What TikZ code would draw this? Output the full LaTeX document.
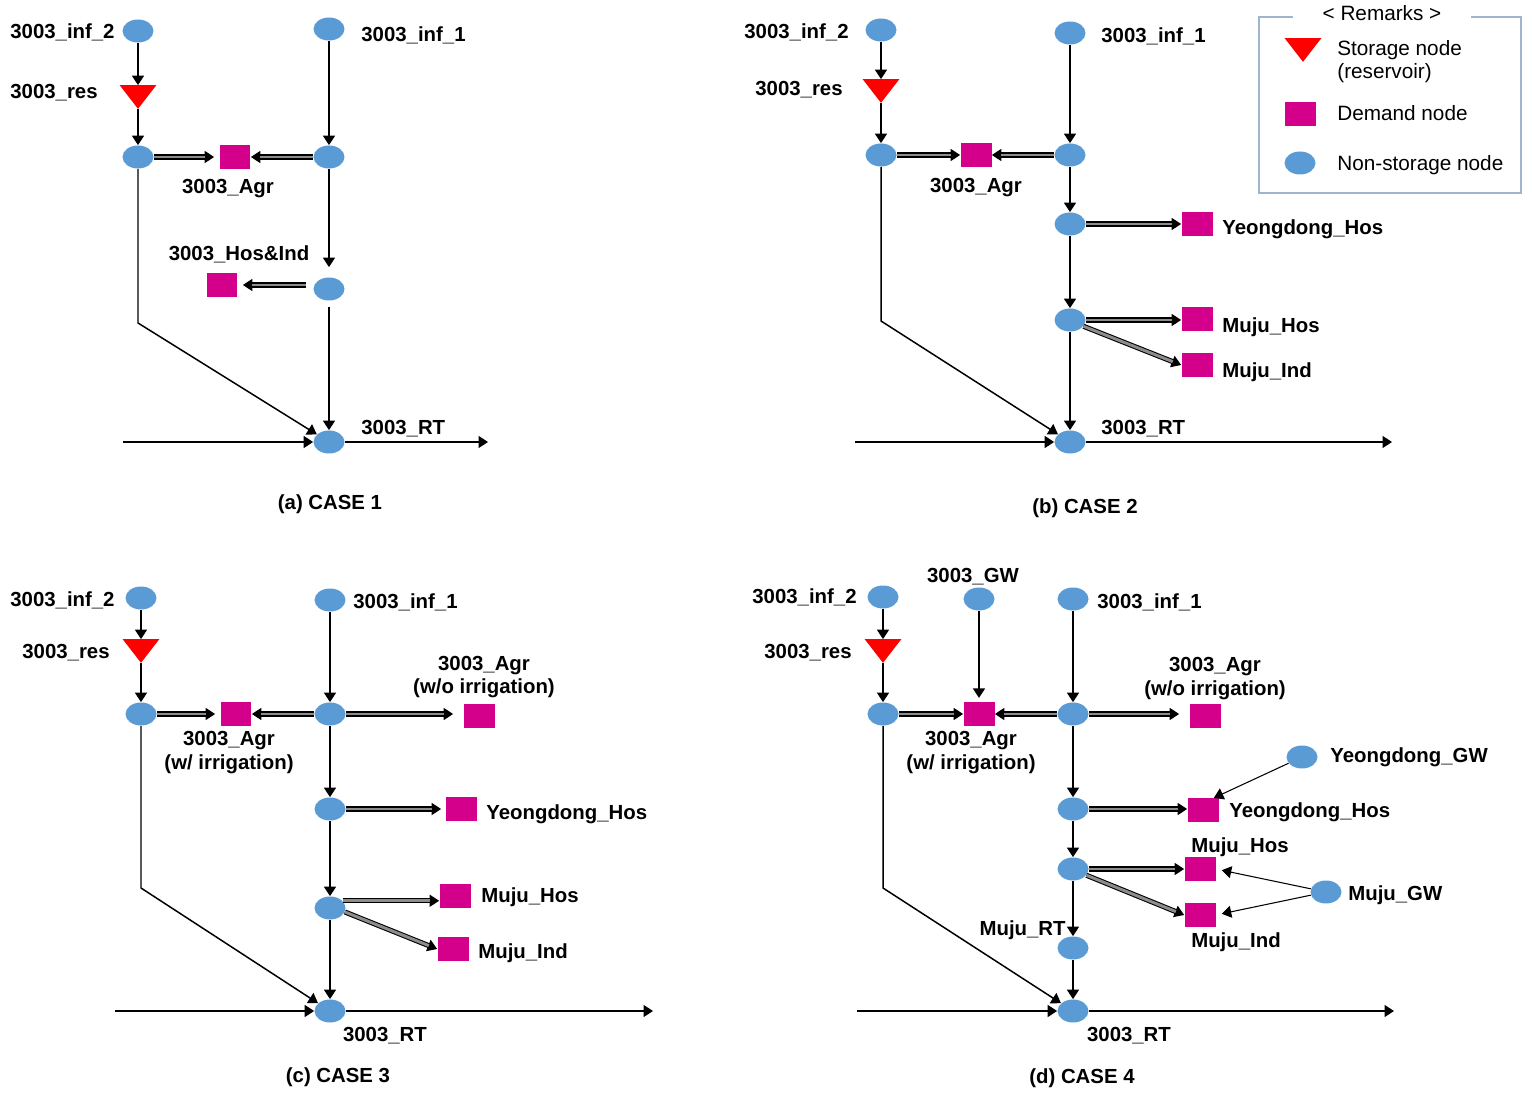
\documentclass[tikz,border=0pt]{standalone}
\usepackage{fontspec}
\setmainfont{Liberation Sans}
\usetikzlibrary{shapes.geometric,arrows.meta,calc}
\definecolor{nsblue}{RGB}{91,155,213}
\definecolor{dmmag}{RGB}{212,0,140}
\definecolor{lgbord}{RGB}{160,180,205}
\tikzset{
 ns/.style={ellipse, fill=nsblue, minimum width=0.62cm, minimum height=0.46cm, inner sep=0pt},
 dm/.style={rectangle, fill=dmmag, minimum width=0.62cm, minimum height=0.47cm, inner sep=0pt},
 stbox/.style={rectangle, minimum width=0.72cm, minimum height=0.46cm, inner sep=0pt},
 lbl/.style={font=\fontsize{11.6}{13}\selectfont\bfseries, inner sep=0pt, text height=8.3pt, text depth=0pt},
 lgl/.style={font=\fontsize{11.8}{13}\selectfont, inner sep=0pt, text height=8.3pt, text depth=0pt},
 arr/.style={line width=0.85pt, -{Triangle[length=0.19cm,width=0.24cm]}},
 ln/.style={line width=0.85pt},
 dline/.style={line width=0.6pt, double=black!45, double distance=1.7pt},
}
\newcommand\dblarr[3][0pt]{%
  \draw[arr, shorten >=#1] (#2) -- (#3);
  \draw[dline, shorten >=#1+0.18cm] (#2) -- (#3);}
\newcommand\stor[2]{%
  \node[stbox] (#1) at (#2) {};
  \fill[red] (#1.north west) -- (#1.north east) -- (#1.south) -- cycle;}
\begin{document}
\begin{tikzpicture}[x=0.02cm, y=-0.02cm]
\useasboundingbox (0,0) rectangle (1532,1094);

% ================= (a) CASE 1 =================
\node[ns] (a_i2) at (138,31) {};
\node[ns] (a_i1) at (329,29) {};
\stor{a_res}{138,97}
\node[ns] (a_lj) at (138,157) {};
\node[ns] (a_rj) at (329,157) {};
\node[dm] (a_agr) at (235,157) {};
\node[dm] (a_hos) at (222,285) {};
\node[ns] (a_hj) at (329,289) {};
\node[ns] (a_rt) at (329,442) {};
\coordinate (a_bend) at (138,323);
\coordinate (a_in) at (123,442);
\coordinate (a_out) at (488,442);

\draw[arr] (a_i2) -- (a_res);
\draw[arr] (a_res) -- (a_lj);
\draw[arr] (a_i1) -- (a_rj);
\dblarr[0.1cm]{a_lj}{a_agr}
\dblarr{a_rj}{a_agr}
\draw[arr, shorten >=0.2cm] (a_rj) -- (a_hj);
\draw[arr, shorten <=0.12cm] (a_hj) -- (a_rt);
\draw[arr, shorten <=0.14cm, shorten >=0.1cm] (a_hj.west |- a_hos) -- (a_hos);
\draw[dline, shorten <=0.14cm, shorten >=0.28cm] (a_hj.west |- a_hos) -- (a_hos);
\draw[arr] (a_lj) -- (a_bend) -- (a_rt);
\draw[arr] (a_in) -- (a_rt);
\draw[arr] (a_rt) -- (a_out);

\node[lbl, anchor=west] (a_t1) at (10,31) {3003\_inf\_2};
\node[lbl, anchor=west] (a_t2) at (361,34) {3003\_inf\_1};
\node[lbl, anchor=west] (a_t3) at (10,91) {3003\_res};
\node[lbl] (a_t4) at (228,186) {3003\_Agr};
\node[lbl] (a_t5) at (239,253) {3003\_Hos\&Ind};
\node[lbl, anchor=west] (a_t6) at (361,427) {3003\_RT};
\node[lbl] (a_t7) at (330,502) {(a) CASE 1};

% ================= (b) CASE 2 =================
\node[ns] (b_i2) at (881,30) {};
\node[ns] (b_i1) at (1070,33) {};
\stor{b_res}{881,91}
\node[ns] (b_lj) at (881,155) {};
\node[ns] (b_rj) at (1070,155) {};
\node[dm] (b_agr) at (976,155) {};
\node[ns] (b_yj) at (1070,224) {};
\node[dm] (b_yh) at (1197,224) {};
\node[ns] (b_mj) at (1070,320) {};
\node[dm] (b_mh) at (1197,319) {};
\node[dm] (b_mi) at (1197,365) {};
\node[ns] (b_rt) at (1070,442) {};
\coordinate (b_bend) at (881,321);
\coordinate (b_in) at (855,442);
\coordinate (b_out) at (1392,442);

\draw[arr] (b_i2) -- (b_res);
\draw[arr] (b_res) -- (b_lj);
\draw[arr] (b_i1) -- (b_rj);
\dblarr{b_lj}{b_agr}
\dblarr{b_rj}{b_agr}
\draw[arr] (b_rj) -- (b_yj);
\draw[arr] (b_yj) -- (b_mj);
\draw[arr] (b_mj) -- (b_rt);
\dblarr{b_yj}{b_yh}
\dblarr{b_mj}{b_mj -| b_mh.west}
\dblarr{b_mj.-25}{b_mi.west}
\draw[arr] (b_lj) -- (b_bend) -- (b_rt);
\draw[arr] (b_in) -- (b_rt);
\draw[arr] (b_rt) -- (b_out);

\node[lbl, anchor=west] (b_t1) at (744,31) {3003\_inf\_2};
\node[lbl, anchor=west] (b_t2) at (1101,35) {3003\_inf\_1};
\node[lbl, anchor=west] (b_t3) at (755,88) {3003\_res};
\node[lbl] (b_t4) at (976,185) {3003\_Agr};
\node[lbl, anchor=west] (b_t5) at (1222,227) {Yeongdong\_Hos};
\node[lbl, anchor=west] (b_t6) at (1222,325) {Muju\_Hos};
\node[lbl, anchor=west] (b_t7) at (1222,370) {Muju\_Ind};
\node[lbl, anchor=west] (b_t8) at (1101,427) {3003\_RT};
\node[lbl] (b_t9) at (1085,506) {(b) CASE 2};

% ================= Legend =================
\draw[lgbord, line width=0.9pt] (1293,17) -- (1259,17) -- (1259,193) -- (1521,193) -- (1521,17) -- (1471,17);
\node[lgl] (l_title) at (1382,13) {< Remarks >};
\stor{l_st}{1303,50}
\node[dm] (l_dm) at (1300,114) {};
\node[ns] (l_ns) at (1300,163) {};
\node[lgl, anchor=west] (l_t1) at (1337,48) {Storage node};
\node[lgl, anchor=west] (l_t2) at (1337,71) {(reservoir)};
\node[lgl, anchor=west] (l_t3) at (1337,113) {Demand node};
\node[lgl, anchor=west] (l_t4) at (1337,163) {Non-storage node};

% ================= (c) CASE 3 =================
\node[ns] (c_i2) at (141,598) {};
\node[ns] (c_i1) at (330,600) {};
\stor{c_res}{141,651}
\node[ns] (c_lj) at (141,714) {};
\node[ns] (c_rj) at (330,714) {};
\node[dm] (c_agr) at (236,714) {};
\node[dm] (c_wo) at (479,716) {};
\node[ns] (c_yj) at (330,809) {};
\node[dm] (c_yh) at (461,809) {};
\node[ns] (c_mj) at (330,908) {};
\node[dm] (c_mh) at (455,896) {};
\node[dm] (c_mi) at (453,949) {};
\node[ns] (c_rt) at (330,1011) {};
\coordinate (c_bend) at (141,888);
\coordinate (c_in) at (115,1011);
\coordinate (c_out) at (653,1011);

\draw[arr] (c_i2) -- (c_res);
\draw[arr] (c_res) -- (c_lj);
\draw[arr] (c_i1) -- (c_rj);
\dblarr[0.1cm]{c_lj}{c_agr}
\dblarr{c_rj}{c_agr}
\dblarr[0.2cm]{c_rj}{c_rj -| c_wo.west}
\draw[arr] (c_rj) -- (c_yj);
\dblarr[0.08cm]{c_yj}{c_yh}
\draw[arr] (c_yj) -- (c_mj);
\draw[arr] (c_mj) -- (c_rt);
\dblarr{c_mj.30}{c_mj.30 -| c_mh.west}
\dblarr{c_mj.-15}{c_mi.west}
\draw[arr] (c_lj) -- (c_bend) -- (c_rt);
\draw[arr] (c_in) -- (c_rt);
\draw[arr] (c_rt) -- (c_out);

\node[lbl, anchor=west] (c_t1) at (10,599) {3003\_inf\_2};
\node[lbl, anchor=west] (c_t2) at (353,601) {3003\_inf\_1};
\node[lbl, anchor=west] (c_t3) at (22,651) {3003\_res};
\node[lbl] (c_t4) at (229,738) {3003\_Agr};
\node[lbl] (c_t5) at (229,762) {(w/ irrigation)};
\node[lbl] (c_t6) at (484,663) {3003\_Agr};
\node[lbl] (c_t7) at (484,686) {(w/o irrigation)};
\node[lbl, anchor=west] (c_t8) at (486,812) {Yeongdong\_Hos};
\node[lbl, anchor=west] (c_t9) at (481,895) {Muju\_Hos};
\node[lbl, anchor=west] (c_t10) at (478,951) {Muju\_Ind};
\node[lbl] (c_t11) at (385,1034) {3003\_RT};
\node[lbl] (c_t12) at (338,1075) {(c) CASE 3};

% ================= (d) CASE 4 =================
\node[ns] (d_i2) at (883,597) {};
\node[ns] (d_gw) at (979,599) {};
\node[ns] (d_i1) at (1073,599) {};
\stor{d_res}{883,651}
\node[ns] (d_lj) at (883,714) {};
\node[dm] (d_agr) at (979,714) {};
\node[ns] (d_rj) at (1073,714) {};
\node[dm] (d_wo) at (1205,716) {};
\node[ns] (d_ygw) at (1302,757) {};
\node[ns] (d_yj) at (1073,809) {};
\node[dm] (d_yh) at (1203,810) {};
\node[ns] (d_mj) at (1073,869) {};
\node[dm] (d_mh) at (1200,869) {};
\node[dm] (d_mi) at (1200,915) {};
\node[ns] (d_mgw) at (1326,892) {};
\node[ns] (d_mrt) at (1073,948) {};
\node[ns] (d_rt) at (1073,1011) {};
\coordinate (d_bend) at (883,888);
\coordinate (d_in) at (857,1011);
\coordinate (d_out) at (1394,1011);
\coordinate (d_yhtip) at ($(d_yh.north east)+(-5,0)$);

\draw[arr] (d_i2) -- (d_res);
\draw[arr] (d_res) -- (d_lj);
\draw[arr, shorten >=0.08cm] (d_gw) -- (d_agr);
\draw[arr] (d_i1) -- (d_rj);
\dblarr{d_lj}{d_agr}
\dblarr{d_rj}{d_agr}
\dblarr[0.2cm]{d_rj}{d_rj -| d_wo.west}
\draw[arr] (d_rj) -- (d_yj);
\dblarr{d_yj}{d_yj -| d_yh.west}
\draw[arr] (d_yj) -- (d_mj);
\dblarr{d_mj}{d_mh}
\dblarr{d_mj.-25}{d_mi.west}
\draw[arr] (d_mj) -- (d_mrt);
\draw[arr] (d_mrt) -- (d_rt);
\draw[arr, line width=0.6pt] (d_ygw) -- (d_yhtip);
\draw[arr, line width=0.6pt, shorten >=0.12cm] (d_mgw) -- (d_mh.east);
\draw[arr, line width=0.6pt, shorten >=0.12cm] (d_mgw) -- (d_mi.east);
\draw[arr] (d_lj) -- (d_bend) -- (d_rt);
\draw[arr] (d_in) -- (d_rt);
\draw[arr] (d_rt) -- (d_out);

\node[lbl, anchor=west] (d_t1) at (752,596) {3003\_inf\_2};
\node[lbl] (d_t2) at (973,575) {3003\_GW};
\node[lbl, anchor=west] (d_t3) at (1097,601) {3003\_inf\_1};
\node[lbl, anchor=west] (d_t4) at (764,651) {3003\_res};
\node[lbl] (d_t5) at (1215,664) {3003\_Agr};
\node[lbl] (d_t6) at (1215,688) {(w/o irrigation)};
\node[lbl] (d_t7) at (971,738) {3003\_Agr};
\node[lbl] (d_t8) at (971,762) {(w/ irrigation)};
\node[lbl, anchor=west] (d_t9) at (1330,755) {Yeongdong\_GW};
\node[lbl, anchor=west] (d_t10) at (1229,810) {Yeongdong\_Hos};
\node[lbl] (d_t11) at (1240,845) {Muju\_Hos};
\node[lbl] (d_t12) at (1236,940) {Muju\_Ind};
\node[lbl, anchor=west] (d_t13) at (1348,893) {Muju\_GW};
\node[lbl, anchor=east] (d_t14) at (1066,928) {Muju\_RT};
\node[lbl] (d_t15) at (1129,1034) {3003\_RT};
\node[lbl] (d_t16) at (1082,1076) {(d) CASE 4};
\end{tikzpicture}
\end{document}
